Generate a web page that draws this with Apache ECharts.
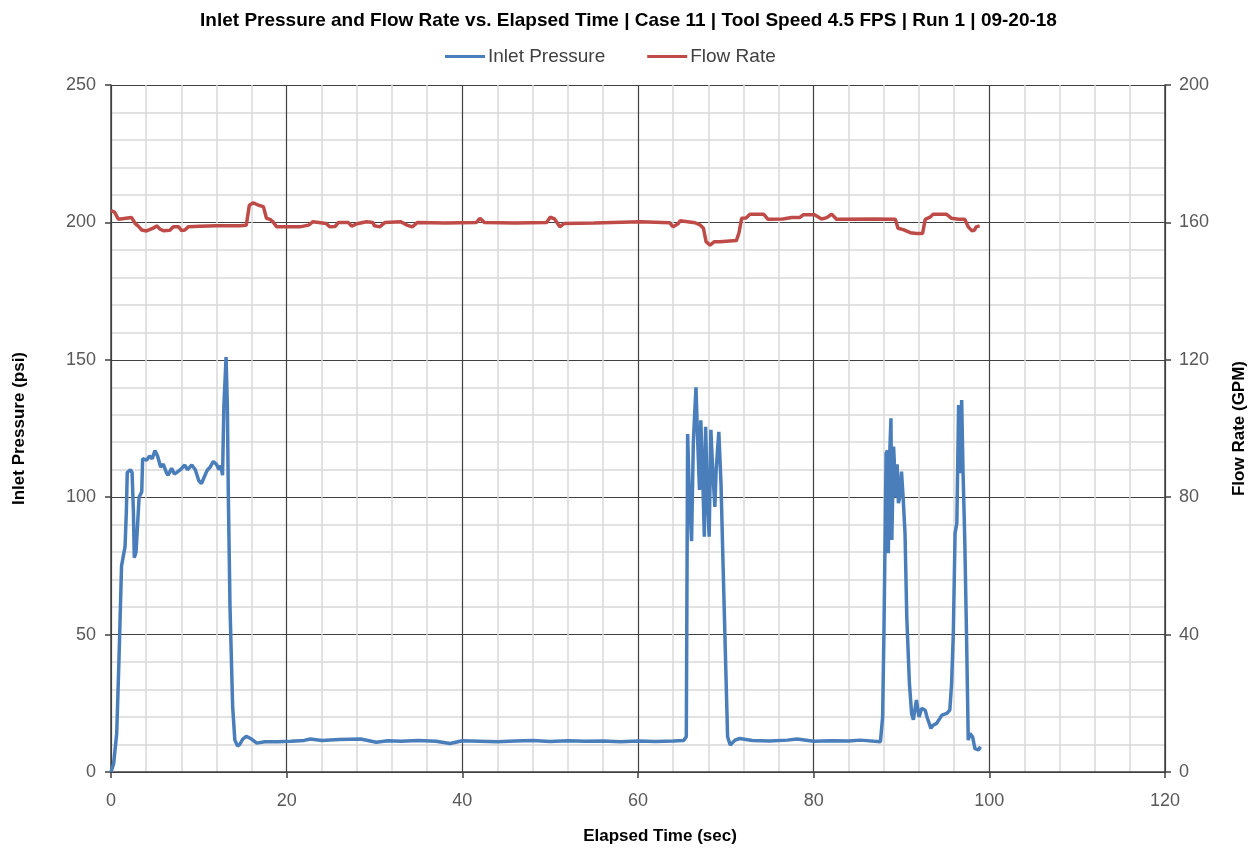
<!DOCTYPE html>
<html>
<head>
<meta charset="utf-8">
<title>Inlet Pressure and Flow Rate vs. Elapsed Time</title>
<script src="https://cdn.jsdelivr.net/npm/echarts@6/dist/echarts.min.js"></script>
<style>
  html, body { margin: 0; padding: 0; background: #fff; }
  #chart { width: 1257px; height: 854px; }
</style>
</head>
<body>
<div id="chart"></div>
<script>
// Case 11 | Run 1 — lecturas del gráfico original
const FONT = '"Liberation Sans", Arial, sans-serif';
const BLUE = '#4a7ebb';
const RED = '#be4b48';

// Inlet Pressure (psi) vs tiempo (s)
const pressureTime = [
  0, 0.3, 0.65, 0.9, 1.2, 1.6, 1.75, 1.85, 2.2, 2.4, 2.55, 2.65, 2.85, 3.2, 3.5, 3.6,
  4.05, 4.4, 4.7, 5.0, 5.3, 5.65, 5.95, 6.3, 6.5, 6.9, 7.2, 7.5, 7.9, 8.4, 8.7, 9.2,
  9.6, 10.0, 10.3, 10.8, 11.0, 11.3, 11.65, 12.0, 12.3, 12.5, 12.7, 12.85, 13.1, 13.25,
  13.35, 13.55, 13.85, 14.1, 14.4, 14.65, 15.0, 15.4, 16.0, 16.6, 17.5, 19, 20.5, 22,
  22.7, 24, 26, 28.4, 30.2, 31.5, 33, 35, 37, 38.6, 40, 42, 44, 46, 48, 50, 52, 54, 56,
  58, 60, 62, 64, 65.2, 65.5, 65.65, 65.85, 66.1, 66.3, 66.6, 66.8, 67.0, 67.15, 67.35,
  67.55, 67.7, 67.9, 68.1, 68.3, 68.5, 68.75, 68.9, 69.2, 69.45, 69.7, 70.0, 70.2, 70.5,
  71.05, 71.6, 73, 75, 77, 78.1, 80, 82, 84, 85.3, 87.6, 87.85, 88.0, 88.15, 88.25, 88.4,
  88.5, 88.65, 88.8, 88.9, 89.1, 89.25, 89.4, 89.5, 89.65, 89.8, 90.0, 90.2, 90.4, 90.6,
  90.9, 91.15, 91.35, 91.7, 92.0, 92.3, 92.7, 92.9, 93.35, 93.6, 94.0, 94.6, 95.15, 95.5,
  95.7, 95.9, 96.1, 96.3, 96.5, 96.65, 96.85, 97.0, 97.2, 97.4, 97.6, 97.8, 98.1, 98.35,
  98.75, 99.0
];
const pressureVals = [
  0, 3, 14, 40, 75, 82, 95, 109, 110, 109, 95, 78, 80, 100, 102, 114,
  113.5, 115, 114, 117, 115, 111, 112, 109, 108, 110.5, 108.5, 109, 110, 111.7, 110, 111.7,
  110, 106, 105, 108.7, 110, 111, 113, 112, 110, 111.5, 108, 133, 151, 133,
  102.6, 60, 23.8, 11.6, 9.5, 10, 12, 13, 12, 10.5, 11, 11, 11.2, 11.5,
  12, 11.5, 11.8, 12, 10.8, 11.4, 11.2, 11.5, 11.2, 10.4, 11.4, 11.2, 11, 11.3, 11.5, 11.1, 11.4, 11.2, 11.3,
  11, 11.3, 11.1, 11.3, 11.5, 12.8, 123, 100, 84, 120, 140, 120, 102.6, 128, 110,
  85.6, 125.6, 100, 85.6, 124.5, 110, 96.5, 110, 123.8, 105, 73.5, 37, 12.8, 9.8,
  11.6, 12.2, 11.5, 11.3, 11.6, 12, 11.2, 11.4, 11.3, 11.6, 11, 20, 50.5, 90, 116, 117,
  79.6, 115, 128.7, 84.4, 118.4, 108, 100, 112, 97.8, 100, 109.3, 99, 86.9, 56.5,
  32.3, 21.3, 19, 26.2, 20, 23.2, 22.5, 20, 15.9, 17, 17.7, 20.7, 21.3, 22.5,
  32, 50.4, 86.9, 90.5, 133.5, 108.7, 135.4, 110, 85, 50.4, 11.6, 14, 12.8, 8.6,
  8, 9.2
];

// Flow Rate (GPM) vs tiempo (s)
const flowTime = [
  0, 0.4, 0.85, 2.35, 2.75, 3.1, 3.5, 4.05, 4.8, 5.2, 5.6, 5.95, 6.7, 7.1, 7.7, 8.05, 8.4,
  8.8, 10.1, 12, 14.7, 15.4, 15.75, 16.2, 16.8, 17.35, 17.7, 18.1, 18.5, 18.85, 21.5, 22.5,
  23.0, 24.5, 24.9, 25.5, 25.9, 27.0, 27.4, 28.0, 29.1, 29.8, 30.0, 30.6, 31.2, 33.0, 33.7,
  34.3, 34.9, 38, 41.6, 42.0, 42.5, 46, 49.6, 50.0, 50.5, 51.1, 51.6, 55, 60.2, 63.6, 64.0,
  64.6, 64.8, 66.5, 67.1, 67.45, 67.75, 68.2, 68.7, 69.3, 71.2, 71.5, 71.8, 72.3, 72.75, 74.3,
  74.8, 76.5, 77.5, 78.4, 78.8, 80.1, 80.9, 81.5, 82.05, 82.6, 86.8, 89.3, 89.6, 90.2, 91.0,
  91.7, 92.4, 92.7, 93.3, 93.6, 95.1, 95.7, 96.5, 97.2, 97.6, 98.0, 98.3, 98.5, 98.9
];
const flowVals = [
  163.4, 163, 160.9, 161.4, 159.7, 158.9, 157.8, 157.5, 158.3, 159, 158, 157.6, 157.7, 158.7, 158.7, 157.6, 157.8,
  158.7, 158.9, 159, 159, 159.2, 165, 165.7, 165, 164.6, 161.2, 160.9, 160, 158.7, 158.7, 159.2,
  160.2, 159.7, 158.7, 158.8, 160, 160, 158.9, 159.6, 160.2, 160, 159, 158.7, 160, 160.2, 159.2,
  158.7, 160, 159.8, 160, 161.2, 160, 159.8, 160, 161.5, 161, 158.7, 159.7, 159.8, 160.2, 159.9, 158.7,
  159.7, 160.5, 159.9, 159.2, 158.3, 154.4, 153.4, 154.4, 154.4, 154.7, 157, 161.2, 161.3, 162.4, 162.4,
  160.9, 161, 161.4, 161.4, 162.2, 162.2, 161, 161.4, 162.4, 160.9, 161, 160.9, 158.3, 157.9, 157,
  156.8, 156.8, 160.9, 161.6, 162.4, 162.4, 161.2, 160.9, 160.9, 158.7, 157.6, 157.7, 158.7, 159
];

const xTicks = { min: 0, max: 120, interval: 20 };
const yLeftTicks = { min: 0, max: 250, interval: 50 };
const yRightTicks = { min: 0, max: 200, interval: 40 };

const pair = (xs, ys) => xs.map((x, i) => [x, ys[i]]);

const labelStyle = { color: '#595959', fontSize: 18, fontFamily: FONT };
const nameStyle = { color: '#000', fontSize: 17, fontWeight: 'bold', fontFamily: FONT };
const axisLine = { show: true, lineStyle: { color: '#404040', width: 1.5 } };
const axisTick = { show: true, length: 6, inside: false, lineStyle: { color: '#404040', width: 1.5 } };

const chart = echarts.init(document.getElementById('chart'), null, { renderer: 'canvas' });
chart.setOption({
  animation: false,
  backgroundColor: '#fff',
  title: {
    text: 'Inlet Pressure and Flow Rate vs. Elapsed Time | Case 11 | Tool Speed 4.5 FPS | Run 1 | 09-20-18',
    left: 'center', top: 6,
    textStyle: { color: '#000', fontSize: 19, fontWeight: 'bold', fontFamily: FONT },
  },
  legend: {
    top: 42, left: 440,
    itemWidth: 40, itemHeight: 3, itemGap: 42, icon: 'rect',
    textStyle: { color: '#404040', fontSize: 19, fontFamily: FONT, padding: [0, 0, 0, -2] },
    data: ['Inlet Pressure', 'Flow Rate'],
  },
  grid: { left: 111, right: 92, top: 85, bottom: 82, containLabel: false },
  xAxis: {
    type: 'value', ...xTicks,
    name: 'Elapsed Time (sec)', nameLocation: 'middle', nameGap: 56,
    nameTextStyle: { ...nameStyle, padding: [0, 0, 0, 44] },
    axisLine, axisTick,
    axisLabel: { ...labelStyle, margin: 20 },
    splitLine: { show: true, lineStyle: { color: '#404040', width: 1.2 } },
    minorTick: { show: false, splitNumber: 5 },
    minorSplitLine: { show: true, lineStyle: { color: '#d9d9d9', width: 1.5 } },
  },
  yAxis: [
    {
      type: 'value', position: 'left', ...yLeftTicks,
      name: 'Inlet Pressure (psi)', nameLocation: 'middle', nameGap: 83, nameRotate: 90,
      nameTextStyle: nameStyle,
      axisLine, axisTick,
      axisLabel: { ...labelStyle, margin: 15 },
      splitLine: { show: true, lineStyle: { color: '#404040', width: 1.2 } },
      minorTick: { show: false, splitNumber: 5 },
      minorSplitLine: { show: true, lineStyle: { color: '#d9d9d9', width: 1.5 } },
    },
    {
      type: 'value', position: 'right', ...yRightTicks,
      name: 'Flow Rate (GPM)', nameLocation: 'middle', nameGap: 66, nameRotate: 90,
      nameTextStyle: nameStyle,
      axisLine, axisTick,
      axisLabel: { ...labelStyle, margin: 14 },
      splitLine: { show: false },
    },
  ],
  series: [
    {
      name: 'Inlet Pressure', type: 'line', yAxisIndex: 0,
      data: pair(pressureTime, pressureVals),
      showSymbol: false, symbol: 'none',
      lineStyle: { color: BLUE, width: 3.5 }, itemStyle: { color: BLUE },
      z: 3,
    },
    {
      name: 'Flow Rate', type: 'line', yAxisIndex: 1,
      data: pair(flowTime, flowVals),
      showSymbol: false, symbol: 'none',
      lineStyle: { color: RED, width: 3.5 }, itemStyle: { color: RED },
      z: 3,
    },
  ],
});
</script>
</body>
</html>
